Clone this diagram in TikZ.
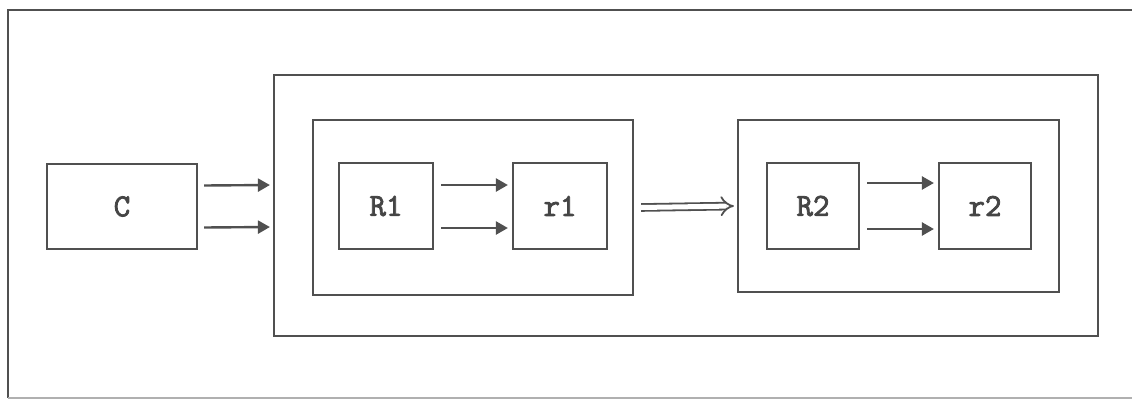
\documentclass[tikz,border=0pt]{standalone}
\usepackage{fontspec}
\newfontfamily\boxfont[FakeBold=2.5]{Latin Modern Mono}
\usetikzlibrary{arrows.meta}
\definecolor{ink}{HTML}{505050}
\definecolor{txt}{HTML}{454545}
\tikzset{
  box/.style={draw=ink, line width=2.2pt, rectangle, inner sep=0pt},
  lbl/.style={text=txt, font=\boxfont\fontsize{32}{34}\selectfont},
  arr/.style={draw=ink, line width=2.4pt, -{Triangle[length=12pt,width=13pt]}},
  dbl/.style={draw=ink, double=white, double distance=5pt, line width=1.8pt, -{Implies}},
}
\begin{document}
\begin{tikzpicture}[x=1pt, y=-1pt]
\useasboundingbox (0,0) rectangle (1132,402);
% surrounding frame
\draw[ink, line width=2.2pt] (1132,10) -- (8,10) -- (8,398);
\draw[ink!45, line width=1.4pt] (8,398) -- (1132,398);
% containers
\node[box, minimum width=824pt, minimum height=261pt] (big) at (686,205.5) {};
\node[box, minimum width=320pt, minimum height=175pt] (grp1) at (473,207.5) {};
\node[box, minimum width=321pt, minimum height=172pt] (grp2) at (898.5,206) {};
% blocks
\node[box, lbl, minimum width=150pt, minimum height=85pt] (C) at (122,206.5) {C};
\node[box, lbl, minimum width=94pt, minimum height=86pt] (R1) at (386,206) {R1};
\node[box, lbl, minimum width=94pt, minimum height=86pt] (r1) at (560,206) {r1};
\node[box, lbl, minimum width=92pt, minimum height=86pt] (R2) at (813,206) {R2};
\node[box, lbl, minimum width=92pt, minimum height=86pt] (r2) at (985,206) {r2};
% connectors
\draw[arr] ([xshift=6pt,yshift=21pt]C.east) -- ([xshift=-3pt,yshift=20.5pt]big.west);
\draw[arr] ([xshift=6pt,yshift=-21pt]C.east) -- ([xshift=-3pt,yshift=-21.5pt]big.west);
\draw[arr] ([xshift=7pt,yshift=21pt]R1.east) -- ([xshift=-4pt,yshift=21pt]r1.west);
\draw[arr] ([xshift=7pt,yshift=-22pt]R1.east) -- ([xshift=-4pt,yshift=-22pt]r1.west);
\draw[arr] ([xshift=7pt,yshift=23pt]R2.east) -- ([xshift=-4pt,yshift=23pt]r2.west);
\draw[arr] ([xshift=7pt,yshift=-23pt]R2.east) -- ([xshift=-4pt,yshift=-23pt]r2.west);
\draw[dbl] ([xshift=7pt]grp1.east) -- ([xshift=-3pt]grp2.west);
\end{tikzpicture}
\end{document}
